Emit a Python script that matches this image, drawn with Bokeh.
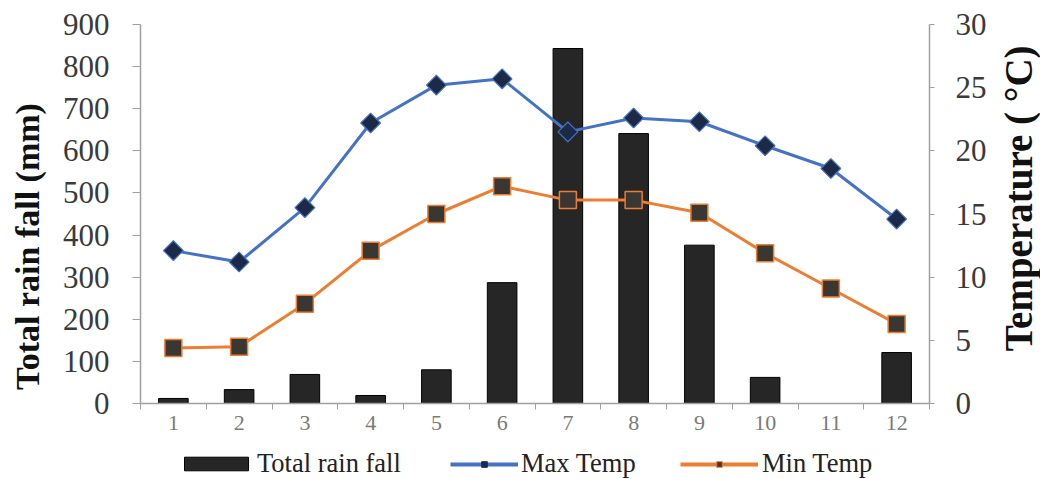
import math
from bokeh.plotting import figure
from bokeh.layouts import row, column
from bokeh.models import Range1d, LinearAxis, FixedTicker, Legend, LegendItem, Label
from bokeh.embed import file_html
from bokeh.resources import INLINE

# ---- data ----
months = [1, 2, 3, 4, 5, 6, 7, 8, 9, 10, 11, 12]
rain = [12, 33, 69, 19, 80, 287, 843, 641, 376, 62, 0, 121]
max_temp = [12.1, 11.2, 15.5, 22.2, 25.2, 25.7, 21.5, 22.6, 22.3, 20.4, 18.6, 14.6]
min_temp = [4.4, 4.5, 7.9, 12.1, 15.0, 17.2, 16.1, 16.1, 15.1, 11.9, 9.1, 6.3]
rain_ticks = [0, 100, 200, 300, 400, 500, 600, 700, 800, 900]
temp_ticks = [0, 5, 10, 15, 20, 25, 30]
month_bounds = [0.5, 1.5, 2.5, 3.5, 4.5, 5.5, 6.5, 7.5, 8.5, 9.5, 10.5, 11.5, 12.5]

FONT = "Liberation Serif"
AXIS_COL = "#a0a0a0"
BAR_FILL = "#262626"
BLUE = "#4472C4"
NAVY = "#1c2a48"
ORANGE = "#ED7D31"
SQ_FILL = "#3a3733"

W_LEFT, W_MAIN, W_RIGHT = 50, 940, 50
H_MAIN, H_LEG = 449, 30


def blank(width, height):
    f = figure(width=width, height=height, x_range=Range1d(0, width),
               y_range=Range1d(0, height), x_axis_type=None, y_axis_type=None,
               output_backend="svg", toolbar_location=None, min_border=0)
    f.xgrid.visible = False
    f.ygrid.visible = False
    f.outline_line_color = None
    return f


# ---- main chart ----
p = figure(width=W_MAIN, height=H_MAIN,
           x_range=Range1d(0.5, 12.5), y_range=Range1d(0, 900),
           output_backend="svg", toolbar_location=None,
           min_border_left=90, min_border_right=61,
           min_border_top=24, min_border_bottom=46)
p.extra_y_ranges = {"temp": Range1d(0, 30)}
p.xgrid.visible = False
p.ygrid.visible = False
p.outline_line_color = None

p.vbar(x=months, top=rain, width=0.45, fill_color=BAR_FILL,
       line_color="#000000", line_width=1)
p.line(months, max_temp, line_color=BLUE, line_width=3, y_range_name="temp")
p.scatter(months, max_temp, marker="square", angle=math.pi / 4, size=14,
          fill_color=NAVY, line_color=BLUE, line_width=1.2, y_range_name="temp")
p.line(months, min_temp, line_color=ORANGE, line_width=3, y_range_name="temp")
p.scatter(months, min_temp, marker="square", size=17, fill_color=SQ_FILL,
          line_color=ORANGE, line_width=1.5, y_range_name="temp")

xa = p.xaxis[0]
xa.ticker = FixedTicker(ticks=months, minor_ticks=month_bounds)
xa.major_tick_out = 0
xa.major_tick_in = 0
xa.minor_tick_out = 6
xa.minor_tick_in = 0
xa.minor_tick_line_color = AXIS_COL
xa.axis_line_color = AXIS_COL
xa.axis_line_width = 1.5
xa.major_label_text_font = FONT
xa.major_label_text_font_size = "22px"
xa.major_label_text_color = "#7a7a7a"
xa.major_label_standoff = 6

ya = p.yaxis[0]
ya.ticker = FixedTicker(ticks=rain_ticks)
ya.major_tick_out = 8
ya.major_tick_in = 0
ya.minor_tick_out = 0
ya.minor_tick_in = 0
ya.major_tick_line_color = AXIS_COL
ya.axis_line_color = AXIS_COL
ya.axis_line_width = 1.5
ya.major_label_text_font = FONT
ya.major_label_text_font_size = "31px"
ya.major_label_text_color = "#3a3a3a"
ya.major_label_standoff = 23

ra = LinearAxis(y_range_name="temp", ticker=FixedTicker(ticks=temp_ticks))
ra.major_tick_out = 5
ra.major_tick_in = 0
ra.minor_tick_out = 0
ra.minor_tick_in = 0
ra.major_tick_line_color = AXIS_COL
ra.axis_line_color = AXIS_COL
ra.axis_line_width = 1.5
ra.major_label_text_font = FONT
ra.major_label_text_font_size = "31px"
ra.major_label_text_color = "#3a3a3a"
ra.major_label_standoff = 21
p.add_layout(ra, "right")

# ---- left axis title ----
pl = blank(W_LEFT, H_MAIN)
pl.add_layout(Label(x=27, y=H_MAIN - 263, text="Total rain fall (mm)",
                    angle=math.pi / 2, text_align="center", text_baseline="middle",
                    text_font=FONT, text_font_style="bold", text_font_size="34px",
                    text_color="#111111"))

# ---- right axis title ----
pr = blank(W_RIGHT, H_MAIN)
pr.add_layout(Label(x=28, y=H_MAIN - 206, text="Temperature ( \u00b0C)",
                    angle=math.pi / 2, text_align="center", text_baseline="middle",
                    text_font=FONT, text_font_style="bold", text_font_size="39px",
                    text_color="#111111"))

# ---- legend strip ----
pg = blank(W_LEFT + W_MAIN + W_RIGHT, H_LEG)
lb = pg.vbar(x=[-500], top=[-500], bottom=[-600], width=1,
             fill_color=BAR_FILL, line_color="#000000")
l1 = pg.line([-600, -500], [-500, -500], line_color=BLUE, line_width=4)
m1 = pg.scatter([-500], [-500], marker="square", angle=math.pi / 4, size=8,
                fill_color=NAVY, line_color=NAVY)
l2 = pg.line([-600, -500], [-500, -500], line_color=ORANGE, line_width=4)
m2 = pg.scatter([-500], [-500], marker="square", size=11, fill_color=SQ_FILL,
                line_color=ORANGE, line_width=1)

leg_style = dict(orientation="horizontal", label_text_font=FONT,
                 label_text_font_size="26.5px", label_text_color="#222222",
                 padding=0, margin=0,
                 border_line_color=None, background_fill_alpha=0)
pg.add_layout(Legend(items=[LegendItem(label="Total rain fall", renderers=[lb])],
                     location=(176, 0), glyph_width=80, glyph_height=17,
                     label_standoff=1, **leg_style))
pg.add_layout(Legend(items=[LegendItem(label="Max Temp", renderers=[l1, m1])],
                     location=(450, 0), glyph_width=68, glyph_height=14,
                     label_standoff=3, **leg_style))
pg.add_layout(Legend(items=[LegendItem(label="Min Temp", renderers=[l2, m2])],
                     location=(680, 0), glyph_width=78, glyph_height=14,
                     label_standoff=4, **leg_style))

layout = column(row(pl, p, pr, spacing=0), pg, spacing=0)

open("out.html", "w").write(file_html(layout, INLINE))
